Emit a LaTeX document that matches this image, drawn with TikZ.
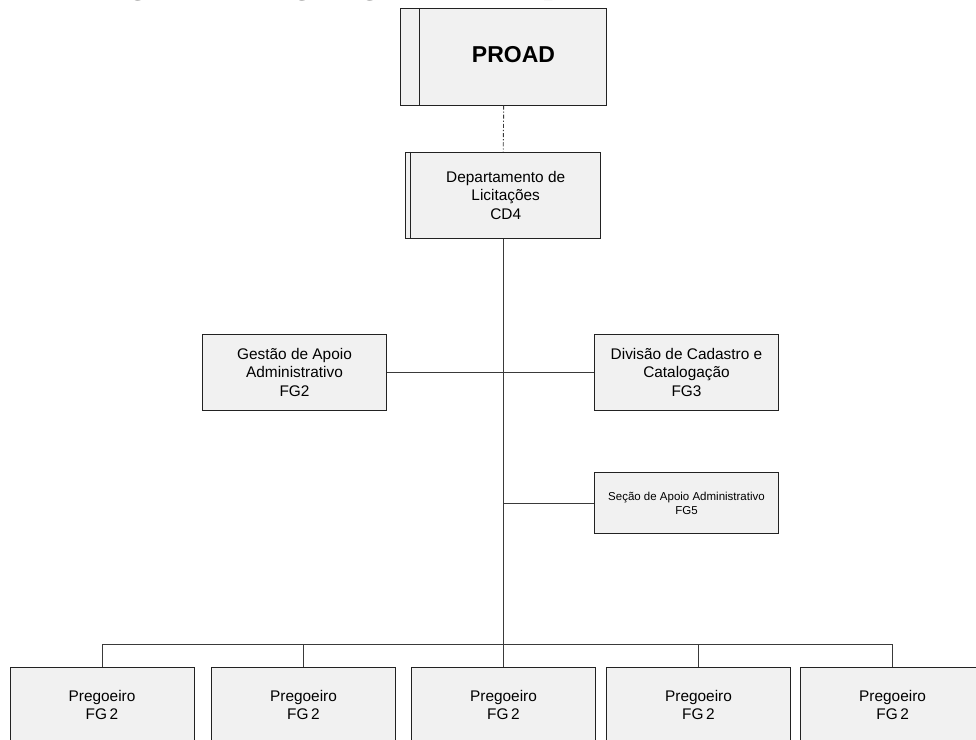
\documentclass[tikz,border=0pt]{standalone}
\usepackage{fontspec}
\setmainfont{Liberation Sans}
\newfontfamily\titleserif{Liberation Serif}
\definecolor{boxfill}{HTML}{F1F1F1}
\definecolor{boxline}{HTML}{222222}
\definecolor{linkline}{HTML}{3A3A3A}
\begin{document}
\begin{tikzpicture}[x=0.5pt,y=-0.5pt,
  unitbox/.style={draw=boxline, fill=boxfill, line width=0.5pt, inner sep=0pt,
    minimum width=92pt, align=center,
    font=\fontsize{7.7pt}{9.3pt}\selectfont},
  boxtext/.style={inner sep=0pt, align=center, font=\fontsize{7.7pt}{9.3pt}\selectfont},
  link/.style={draw=linkline, line width=0.5pt},
  dotlink/.style={draw=linkline, line width=0.45pt, dash pattern=on 2pt off 1pt on 0.6pt off 1pt}]
\useasboundingbox (0,0) rectangle (976,740);
\clip (0,0) rectangle (976,740);

% heading, raised so that mostly its descenders fall inside the frame
\node[font=\titleserif\bfseries\fontsize{16.5pt}{19pt}\selectfont, anchor=base, inner sep=0pt]
  (heading) at (500,-6.5) {Figura 1 – Organograma do Departamento de Licitações};

% pro-rectorate
\node[unitbox, minimum width=103pt, minimum height=48.35pt] (proad) at (503.7,56.65) {};
\draw[boxline, line width=0.6pt] ([xshift=9.65pt]proad.north west) -- ([xshift=9.65pt]proad.south west);
\node[inner sep=0pt, font=\bfseries\fontsize{11.5pt}{13pt}\selectfont] (proadtext) at (513.5,55) {PROAD};

% department
\node[unitbox, minimum width=97.5pt, minimum height=43pt] (dept) at (503.2,195.3) {};
\draw[boxline, line width=0.6pt] ([xshift=2.5pt]dept.north west) -- ([xshift=2.5pt]dept.south west);
\node[boxtext] (depttext) at (505.7,195.3) {Departamento de\\Licitações\\CD4};

% staff units
\node[unitbox, minimum height=38.35pt] (gestao) at (294.5,372.35) {Gestão de Apoio\\Administrativo\\FG2};
\node[unitbox, minimum height=38.35pt] (divisao) at (686.5,372.35) {Divisão de Cadastro e\\Catalogação\\FG3};
\node[unitbox, minimum height=30.3pt, font=\fontsize{5.75pt}{7pt}\selectfont] (secao) at (686.5,503) {Seção de Apoio Administrativo\\FG5};

% auctioneers
\node[unitbox, minimum height=38pt] (preg1) at (102,705) {Pregoeiro\\FG\,2};
\node[unitbox, minimum height=38pt] (preg2) at (303.5,705) {Pregoeiro\\FG\,2};
\node[unitbox, minimum height=38pt] (preg3) at (503.5,705) {Pregoeiro\\FG\,2};
\node[unitbox, minimum height=38pt] (preg4) at (698.5,705) {Pregoeiro\\FG\,2};
\node[unitbox, minimum height=38pt] (preg5) at (892.6,705) {Pregoeiro\\FG\,2};

% connectors
\coordinate (bus) at (503.2,644.7);
\draw[dotlink] (proad.south) -- (dept.north);
\draw[link] (dept.south) -- (bus);
\draw[link] (gestao.east) -- (divisao.west);
\draw[link] (dept.south |- secao.west) -- (secao.west);
\draw[link] (preg1.north) |- (bus) -| (preg5.north);
\draw[link] (preg2.north) -- (preg2.north |- bus);
\draw[link] (preg3.north) -- (preg3.north |- bus);
\draw[link] (preg4.north) -- (preg4.north |- bus);
\end{tikzpicture}
\end{document}
